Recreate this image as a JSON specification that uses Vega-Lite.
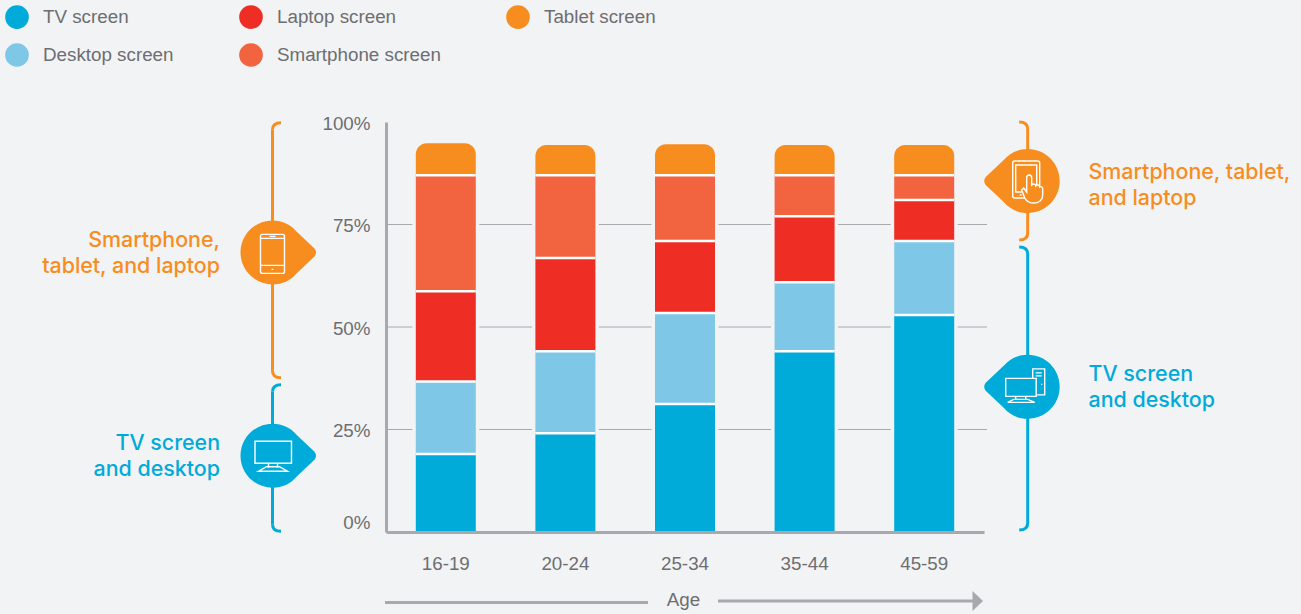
{
  "$schema": "https://vega.github.io/schema/vega-lite/v6.json",
  "width": 598,
  "height": 410,
  "autosize": {"type": "none"},
  "padding": {"left": 386, "top": 122, "right": 317, "bottom": 82},
  "background": "#f2f3f5",
  "config": {
    "view": {"stroke": null},
    "font": "Liberation Sans",
    "axis": {"grid": false, "ticks": false}
  },
  "datasets": {
    "screens": [
      {"age": "16-19", "screen": "TV screen", "share": 19},
      {"age": "16-19", "screen": "Desktop screen", "share": 17.7},
      {"age": "16-19", "screen": "Laptop screen", "share": 22},
      {"age": "16-19", "screen": "Smartphone screen", "share": 28.3},
      {"age": "16-19", "screen": "Tablet screen", "share": 7.8},
      {"age": "20-24", "screen": "TV screen", "share": 24.1},
      {"age": "20-24", "screen": "Desktop screen", "share": 20},
      {"age": "20-24", "screen": "Laptop screen", "share": 22.7},
      {"age": "20-24", "screen": "Smartphone screen", "share": 20.2},
      {"age": "20-24", "screen": "Tablet screen", "share": 7.4},
      {"age": "25-34", "screen": "TV screen", "share": 31.2},
      {"age": "25-34", "screen": "Desktop screen", "share": 22.2},
      {"age": "25-34", "screen": "Laptop screen", "share": 17.6},
      {"age": "25-34", "screen": "Smartphone screen", "share": 16},
      {"age": "25-34", "screen": "Tablet screen", "share": 7.6},
      {"age": "35-44", "screen": "TV screen", "share": 44.1},
      {"age": "35-44", "screen": "Desktop screen", "share": 16.8},
      {"age": "35-44", "screen": "Laptop screen", "share": 16.1},
      {"age": "35-44", "screen": "Smartphone screen", "share": 10},
      {"age": "35-44", "screen": "Tablet screen", "share": 7.4},
      {"age": "45-59", "screen": "TV screen", "share": 52.9},
      {"age": "45-59", "screen": "Desktop screen", "share": 18.1},
      {"age": "45-59", "screen": "Laptop screen", "share": 10},
      {"age": "45-59", "screen": "Smartphone screen", "share": 6},
      {"age": "45-59", "screen": "Tablet screen", "share": 7.4}
    ],
    "groups": [
      {"side": "left", "family": "orange", "label": "Smartphone,\ntablet, and laptop", "low": 37.6, "high": 99.8, "iconAt": 68.2, "textAt": 68, "icon": "phone"},
      {"side": "left", "family": "blue", "label": "TV screen\nand desktop", "low": 0.2, "high": 35.9, "iconAt": 18.6, "textAt": 18.5, "icon": "monitor"},
      {"side": "right", "family": "orange", "label": "Smartphone, tablet,\nand laptop", "low": 71.2, "high": 100, "iconAt": 85.6, "textAt": 84.6, "icon": "tablet"},
      {"side": "right", "family": "blue", "label": "TV screen\nand desktop", "low": 0.5, "high": 69.5, "iconAt": 35.4, "textAt": 35.4, "icon": "tower"}
    ]
  },
  "resolve": {
    "scale": {"x": "independent", "color": "independent", "shape": "independent"},
    "axis": {"x": "independent", "y": "independent"}
  },
  "layer": [
    {
      "description": "Horizontal guide lines and the percentage axis",
      "data": {"values": [{"level": 25}, {"level": 50}, {"level": 75}]},
      "mark": {"type": "rule", "color": "#a7a9ac", "strokeWidth": 1},
      "encoding": {
        "x": {"datum": 0, "type": "quantitative", "scale": {"domain": [0, 100]}, "axis": null},
        "x2": {"datum": 100.5},
        "y": {
          "field": "level",
          "type": "quantitative",
          "scale": {"domain": [0, 100], "nice": false},
          "axis": {
            "title": null,
            "values": [0, 25, 50, 75, 100],
            "labelExpr": "datum.value + '%'",
            "labelFontSize": 18.8,
            "labelColor": "#6d6e71",
            "labelPadding": 16,
            "labelOffset": {"condition": {"test": "datum.value === 0", "value": -10}, "value": 1},
            "domainColor": "#a7a9ac",
            "domainWidth": 3,
            "zindex": 1
          }
        }
      }
    },
    {
      "description": "Stacked columns by age group",
      "data": {"name": "screens"},
      "transform": [
        {"stack": "share", "groupby": ["age"], "as": ["base", "top"]}
      ],
      "encoding": {
        "x": {
          "field": "age",
          "type": "nominal",
          "sort": null,
          "scale": {"type": "band", "paddingInner": 0, "paddingOuter": 0},
          "axis": {
            "title": "Age",
            "titleFontSize": 18.8,
            "titleFontWeight": "normal",
            "titleColor": "#6d6e71",
            "titlePadding": 18,
            "titleX": 297,
            "labelAngle": 0,
            "labelFontSize": 18.8,
            "labelColor": "#6d6e71",
            "labelPadding": 22,
            "domainColor": "#a7a9ac",
            "domainWidth": 3,
            "zindex": 1
          }
        },
        "y": {"field": "top", "type": "quantitative", "axis": null},
        "y2": {"field": "base"},
        "color": {
          "field": "screen",
          "type": "nominal",
          "scale": {
            "domain": ["TV screen", "Desktop screen", "Laptop screen", "Smartphone screen", "Tablet screen"],
            "range": ["#00aad9", "#7fc7e6", "#ee2e24", "#f26440", "#f78d1f"]
          },
          "legend": {
            "title": null,
            "orient": "none",
            "legendX": -381,
            "legendY": -117,
            "columns": 3,
            "gridAlign": "each",
            "columnPadding": 65,
            "rowPadding": 14,
            "symbolType": "circle",
            "symbolSize": 560,
            "symbolStrokeWidth": 0,
            "symbolOpacity": 1,
            "labelFontSize": 18.8,
            "labelColor": "#6d6e71",
            "labelOffset": 14,
            "labelLimit": 300
          }
        }
      },
      "layer": [
        {
          "transform": [{"filter": "datum.screen === 'Tablet screen'"}],
          "mark": {"type": "bar", "width": 67, "color": "#f2f3f5"},
          "encoding": {"y2": {"datum": 0}, "color": {"value": "#f2f3f5"}}
        },
        {
          "transform": [{"filter": "datum.screen !== 'Tablet screen'"}],
          "mark": {"type": "bar", "width": 60}
        },
        {
          "transform": [{"filter": "datum.screen === 'Tablet screen'"}],
          "mark": {"type": "bar", "width": 60, "cornerRadiusTopLeft": 11, "cornerRadiusTopRight": 11}
        },
        {
          "description": "White seams between the stacked segments",
          "transform": [{"filter": "datum.screen !== 'Tablet screen'"}],
          "mark": {"type": "tick", "size": 60, "thickness": 2.5, "opacity": 1},
          "encoding": {"y2": null, "color": {"value": "#ffffff"}}
        }
      ]
    },
    {
      "description": "Arrow beside the axis title",
      "data": {"values": [{"from": "16-19", "to": "25-34", "next": "45-59"}]},
      "encoding": {
        "x": {
          "field": "from",
          "type": "nominal",
          "scale": {"type": "band", "domain": ["16-19", "20-24", "25-34", "35-44", "45-59"], "paddingInner": 0, "paddingOuter": 0},
          "axis": null
        }
      },
      "layer": [
        {
          "mark": {"type": "rule", "color": "#a7a9ac", "strokeWidth": 3, "xOffset": -60.8, "x2Offset": -37},
          "encoding": {
            "x2": {"field": "to"},
            "y": {"datum": -17.2, "type": "quantitative", "axis": null}
          }
        },
        {
          "mark": {"type": "rule", "color": "#a7a9ac", "strokeWidth": 3, "xOffset": 33, "x2Offset": 51},
          "encoding": {
            "x": {"field": "to", "type": "nominal", "axis": null},
            "x2": {"field": "next"},
            "y": {"datum": -16.8, "type": "quantitative", "axis": null}
          }
        },
        {
          "mark": {"type": "point", "filled": true, "opacity": 1, "size": 4, "shape": "M-5,-10 L5.5,0 L-5,10 Z", "xOffset": 53.3, "color": "#a7a9ac"},
          "encoding": {
            "x": {"field": "next", "type": "nominal", "axis": null},
            "y": {"datum": -16.8, "type": "quantitative", "axis": null}
          }
        }
      ]
    },
    {
      "description": "Brackets, badges and captions for the two screen families",
      "data": {"name": "groups"},
      "resolve": {"scale": {"shape": "independent"}},
      "encoding": {
        "x": {
          "field": "side",
          "type": "nominal",
          "scale": {"type": "point", "domain": ["left", "right"], "range": [-113.5, 641.7], "padding": 0},
          "axis": null
        },
        "color": {
          "field": "family",
          "type": "nominal",
          "scale": {"domain": ["orange", "blue"], "range": ["#f78d1f", "#00aad9"]},
          "legend": null
        }
      },
      "layer": [
        {
          "mark": {"type": "rule", "strokeWidth": 3, "yOffset": 7, "y2Offset": -7},
          "encoding": {
            "y": {"field": "high", "type": "quantitative", "axis": null},
            "y2": {"field": "low"}
          }
        },
        {
          "mark": {"type": "point", "filled": false, "opacity": 1, "size": 4, "strokeWidth": 3},
          "encoding": {
            "y": {"field": "high", "type": "quantitative", "axis": null},
            "shape": {
              "field": "side",
              "type": "nominal",
              "scale": {"domain": ["left", "right"], "range": ["M8.5,0 C3,0 0,2 0,7", "M-8.5,0 C-3,0 0,2 0,7"]},
              "legend": null
            }
          }
        },
        {
          "mark": {"type": "point", "filled": false, "opacity": 1, "size": 4, "strokeWidth": 3},
          "encoding": {
            "y": {"field": "low", "type": "quantitative", "axis": null},
            "shape": {
              "field": "side",
              "type": "nominal",
              "scale": {"domain": ["left", "right"], "range": ["M8.5,0 C3,0 0,-2 0,-7", "M-8.5,0 C-3,0 0,-2 0,-7"]},
              "legend": null
            }
          }
        },
        {
          "mark": {"type": "point", "filled": true, "opacity": 1, "size": 4},
          "encoding": {
            "y": {"field": "iconAt", "type": "quantitative", "axis": null},
            "shape": {
              "field": "side",
              "type": "nominal",
              "scale": {
                "domain": ["left", "right"],
                "range": [
                  "M0,-32 C10,-32 18,-28 24,-21 L42,-4 Q45,0 42,4 L24,21 C18,28 10,32 0,32 A32,32 0 1 1 0,-32 Z",
                  "M0,-32 C-10,-32 -18,-28 -24,-21 L-42,-4 Q-45,0 -42,4 L-24,21 C-18,28 -10,32 0,32 A32,32 0 1 0 0,-32 Z"
                ]
              },
              "legend": null
            }
          }
        },
        {
          "mark": {"type": "point", "filled": false, "opacity": 1, "size": 4, "strokeWidth": 1.4},
          "encoding": {
            "y": {"field": "iconAt", "type": "quantitative", "axis": null},
            "color": {"value": "#ffffff"},
            "shape": {
              "field": "icon",
              "type": "nominal",
              "scale": {
                "domain": ["phone", "monitor", "tablet", "tower"],
                "range": [
                  "M-10,-18 L10,-18 Q12,-18 12,-16 L12,19 Q12,21 10,21 L-10,21 Q-12,21 -12,19 L-12,-16 Q-12,-18 -10,-18 Z M-12,-14 L12,-14 M-12,13 L12,13 M-3,-16 L3,-16 M-1,17 L1,17",
                  "M-17.5,-14.5 L19,-14.5 L19,7.5 L-17.5,7.5 Z M-4,7.5 L-4,12 M5,7.5 L5,12 M-6,11 L7,11 L15,15.5 L-14,15.5 Z",
                  "M-13,-20 L10,-20 Q12,-20 12,-18 L12,15 Q12,17 10,17 L-13,17 Q-15,17 -15,15 L-15,-18 Q-15,-20 -13,-20 Z M-12,-16 L9,-16 L9,11 L-12,11 Z M-8,14 L-6,14",
                  "M-22,-8.5 L8.5,-8.5 L8.5,9.5 L-22,9.5 Z M-12,9.5 L-12,13 M-2,9.5 L-2,13 M-14,12.5 L0,12.5 L7,15.5 L-20,15.5 Z M5,-8.5 L5,-18 L17,-18 L17,8 L8.5,8 M8,-14 L14,-14 M8,-11 L14,-11 M14,-3 L14,-2"
                ]
              },
              "legend": null
            }
          }
        },
        {
          "description": "Hand resting on the tablet badge",
          "transform": [{"filter": "datum.icon === 'tablet'"}],
          "mark": {
            "type": "point",
            "filled": true,
            "opacity": 1,
            "size": 4,
            "strokeWidth": 1.4,
            "stroke": "#ffffff",
            "shape": "M-6,9 L-4,7 L-1,11 L-1,-3 C-1,-7 4,-7 4,-3 L4,4 C6,2 8,3 8,5 C10,3 12,4 12,6 C13,5 15,6 15,8 L15,14 C15,19 11,22 6,22 C1,22 -1,20 -3,17 Z"
          },
          "encoding": {
            "y": {"field": "iconAt", "type": "quantitative", "axis": null}
          }
        },
        {
          "mark": {
            "type": "text",
            "font": "Inter",
            "fontWeight": 500,
            "fontSize": 21.4,
            "lineBreak": "\n",
            "lineHeight": 26,
            "baseline": "middle",
            "dy": -12,
            "align": {"expr": "datum.side === 'left' ? 'right' : 'left'"},
            "dx": {"expr": "datum.side === 'left' ? -52.5 : 60.8"}
          },
          "encoding": {
            "y": {"field": "textAt", "type": "quantitative", "axis": null},
            "text": {"field": "label", "type": "nominal"}
          }
        }
      ]
    }
  ]
}
